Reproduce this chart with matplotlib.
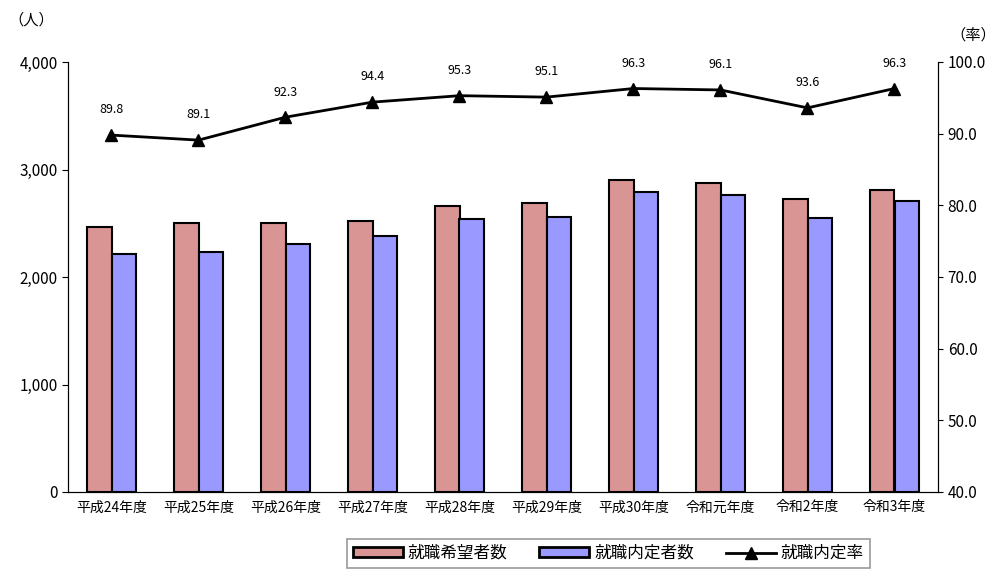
import matplotlib
matplotlib.use("Agg")
import matplotlib.pyplot as plt
import numpy as np
from matplotlib.lines import Line2D
from matplotlib.patches import Patch

plt.rcParams['font.family'] = ['Noto Sans CJK JP', 'DejaVu Sans']

categories = ["平成24年度","平成25年度","平成26年度","平成27年度","平成28年度","平成29年度","平成30年度","令和元年度","令和2年度","令和3年度"]
kibou = [2465, 2500, 2500, 2520, 2660, 2690, 2900, 2875, 2725, 2810]
naitei = [2214, 2228, 2308, 2379, 2535, 2558, 2793, 2763, 2551, 2706]
rate = [89.8, 89.1, 92.3, 94.4, 95.3, 95.1, 96.3, 96.1, 93.6, 96.3]

fig = plt.figure(figsize=(9.97, 5.69), dpi=100)
ax = fig.add_axes([68/997, 1-492/569, 870/997, 430/569])
x = np.arange(len(categories))
w = 0.28
ax.bar(x - w/2, kibou, w, color='#d99594', edgecolor='black', linewidth=1.5)
ax.bar(x + w/2, naitei, w, color='#9999ff', edgecolor='black', linewidth=1.5)
ax.set_xlim(-0.5, len(categories) - 0.5)
ax.set_ylim(0, 4000)
ax.set_yticks(range(0, 4001, 1000))
ax.set_yticklabels([f"{v:,}" for v in range(0, 4001, 1000)], fontsize=11)
ax.set_xticks(x)
ax.set_xticklabels(categories, fontsize=10)
ax.tick_params(axis='x', length=0, pad=6)
ax.tick_params(axis='y', direction='out', length=4)
ax.spines['top'].set_visible(False)
ax2 = ax.twinx()
ax2.plot(x, rate, color='black', linewidth=2, marker='^', markersize=9)
ax2.set_ylim(40, 100)
ax2.set_yticks(range(40, 101, 10))
ax2.set_yticklabels([f"{v:.1f}" for v in range(40, 101, 10)], fontsize=11)
ax2.spines['top'].set_visible(False)
for xi, r in zip(x, rate):
    ax2.text(xi, r + 2.6, f"{r:.1f}", ha='center', va='bottom', fontsize=9)
fig.text(8/997, 1-20/569, "（人）", fontsize=11, va='center')
fig.text(950/997, 1-35/569, "（率）", fontsize=11, va='center')

handles = [Patch(facecolor='#d99594', edgecolor='black', linewidth=2),
           Patch(facecolor='#9999ff', edgecolor='black', linewidth=2),
           Line2D([0], [0], color='black', linewidth=2, marker='^', markersize=9)]
leg = fig.legend(handles, ["就職希望者数", "就職内定者数", "就職内定率"], loc='upper left',
                 bbox_to_anchor=(347/997, 1-539/569), ncol=3, frameon=True, fancybox=False,
                 edgecolor='#808080', fontsize=12, handlelength=3.0, handleheight=0.5,
                 handletextpad=0.3, columnspacing=1.9, borderpad=0.35, borderaxespad=0)
leg.get_frame().set_linewidth(1.2)
fig.savefig("out.png", dpi=100)
